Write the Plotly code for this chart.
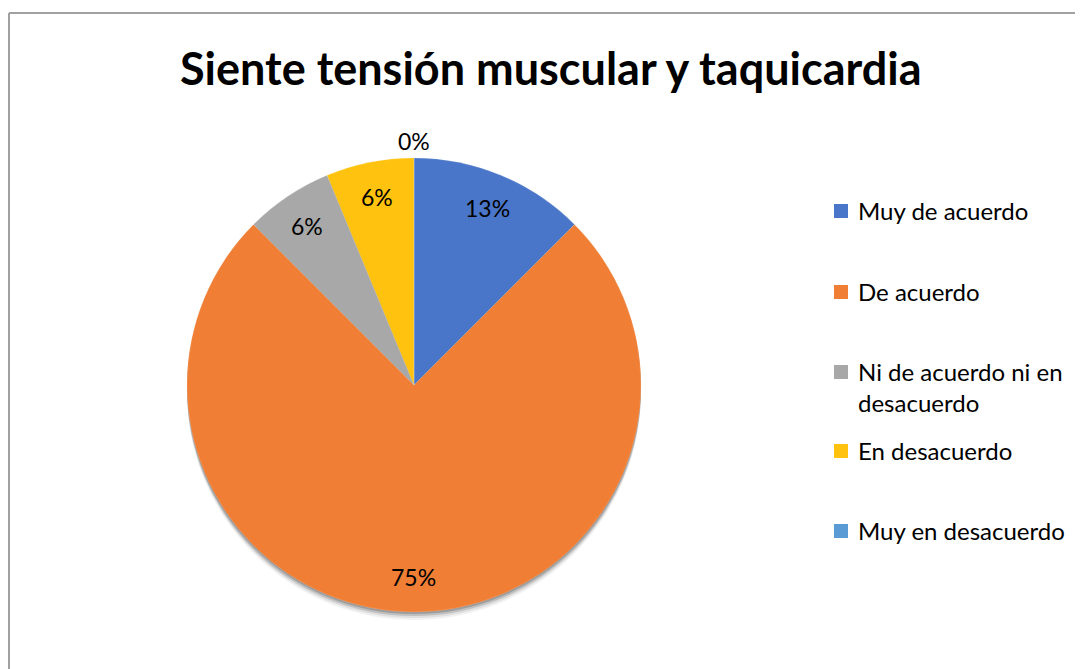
import math
import plotly.graph_objects as go

categories = ["Muy de acuerdo", "De acuerdo", "Ni de acuerdo ni en desacuerdo", "En desacuerdo", "Muy en desacuerdo"]
legend_labels = ["Muy de acuerdo", "De acuerdo", "Ni de acuerdo ni en<br>desacuerdo", "En desacuerdo", "Muy en desacuerdo"]
values = [2, 12, 1, 1, 0]
colors = ["#4A76C9", "#F07F35", "#A8A8A8", "#FFC20E", "#5B9BD5"]
title_text = "Siente tensión muscular y taquicardia"

W, H = 1083, 669
OFF = 8  # page body margin
FONT = "Lato, Calibri, Carlito, sans-serif"


def px_x(x):
    return (x - OFF) / W


def px_y(y):
    return 1 - (y - OFF) / H


# pie placement (page pixels)
cx, cy, R = 414, 385, 227
dom_x = [px_x(cx - R), px_x(cx + R)]
dom_y = [px_y(cy + R), px_y(cy - R)]

fig = go.Figure()

# soft shadow layers (offset downward)
for off, op in [(8, 0.05), (6, 0.08), (4, 0.14), (2, 0.18)]:
    fig.add_trace(go.Pie(
        values=[1], labels=["s"], marker=dict(colors=[f"rgba(0,0,0,{op})"], line=dict(width=0)),
        domain=dict(x=dom_x, y=[px_y(cy + off + R), px_y(cy + off - R)]),
        textinfo="none", hoverinfo="skip", showlegend=False, sort=False))

fig.add_trace(go.Pie(
    labels=categories, values=values, sort=False, direction="clockwise", rotation=0,
    marker=dict(colors=colors, line=dict(color="rgba(255,255,255,0.25)", width=0.5)),
    textinfo="none", showlegend=False, domain=dict(x=dom_x, y=dom_y),
))

annotations = []
total = sum(values)
cum = 0
for v in values:
    frac = v / total
    mid = cum + frac / 2
    cum += frac
    k = 0.845 if v > 0 else 1.075
    ang = 2 * math.pi * mid
    x = cx + R * k * math.sin(ang)
    y = cy - R * k * math.cos(ang)
    annotations.append(dict(
        x=px_x(x), y=px_y(y), xref="paper", yref="paper",
        text=f"{math.floor(frac * 100 + 0.5)}%", showarrow=False,
        font=dict(family=FONT, size=23, color="#000000"),
        xanchor="center", yanchor="middle"))

# legend
shapes = []
leg_y = [211, 292, 372, 451, 531]
for lab, col, y0 in zip(legend_labels, colors, leg_y):
    shapes.append(dict(type="rect", xref="paper", yref="paper",
                       x0=px_x(834), x1=px_x(848), y0=px_y(y0 + 7), y1=px_y(y0 - 7),
                       fillcolor=col, line=dict(width=0)))
    annotations.append(dict(
        x=px_x(856), y=px_y(y0 - 17), xref="paper", yref="paper",
        text=lab, showarrow=False, align="left",
        font=dict(family=FONT, size=24, color="#000000"),
        xanchor="left", yanchor="top"))

# chart border
shapes.append(dict(type="line", xref="paper", yref="paper", x0=px_x(9), x1=1.0, y0=px_y(13), y1=px_y(13),
                   line=dict(color="#A0A0A0", width=2)))
shapes.append(dict(type="line", xref="paper", yref="paper", x0=px_x(9), x1=px_x(9), y0=0, y1=px_y(13),
                   line=dict(color="#A0A0A0", width=2)))

annotations.append(dict(
    x=px_x(551), y=px_y(68), xref="paper", yref="paper", text=f"<b>{title_text}</b>",
    showarrow=False, font=dict(family=FONT, size=45, color="#000000"),
    xanchor="center", yanchor="middle"))

fig.update_layout(
    width=W, height=H, margin=dict(l=0, r=0, t=0, b=0),
    paper_bgcolor="white", plot_bgcolor="white",
    annotations=annotations, shapes=shapes, showlegend=False,
)

fig.write_html("out.html")
